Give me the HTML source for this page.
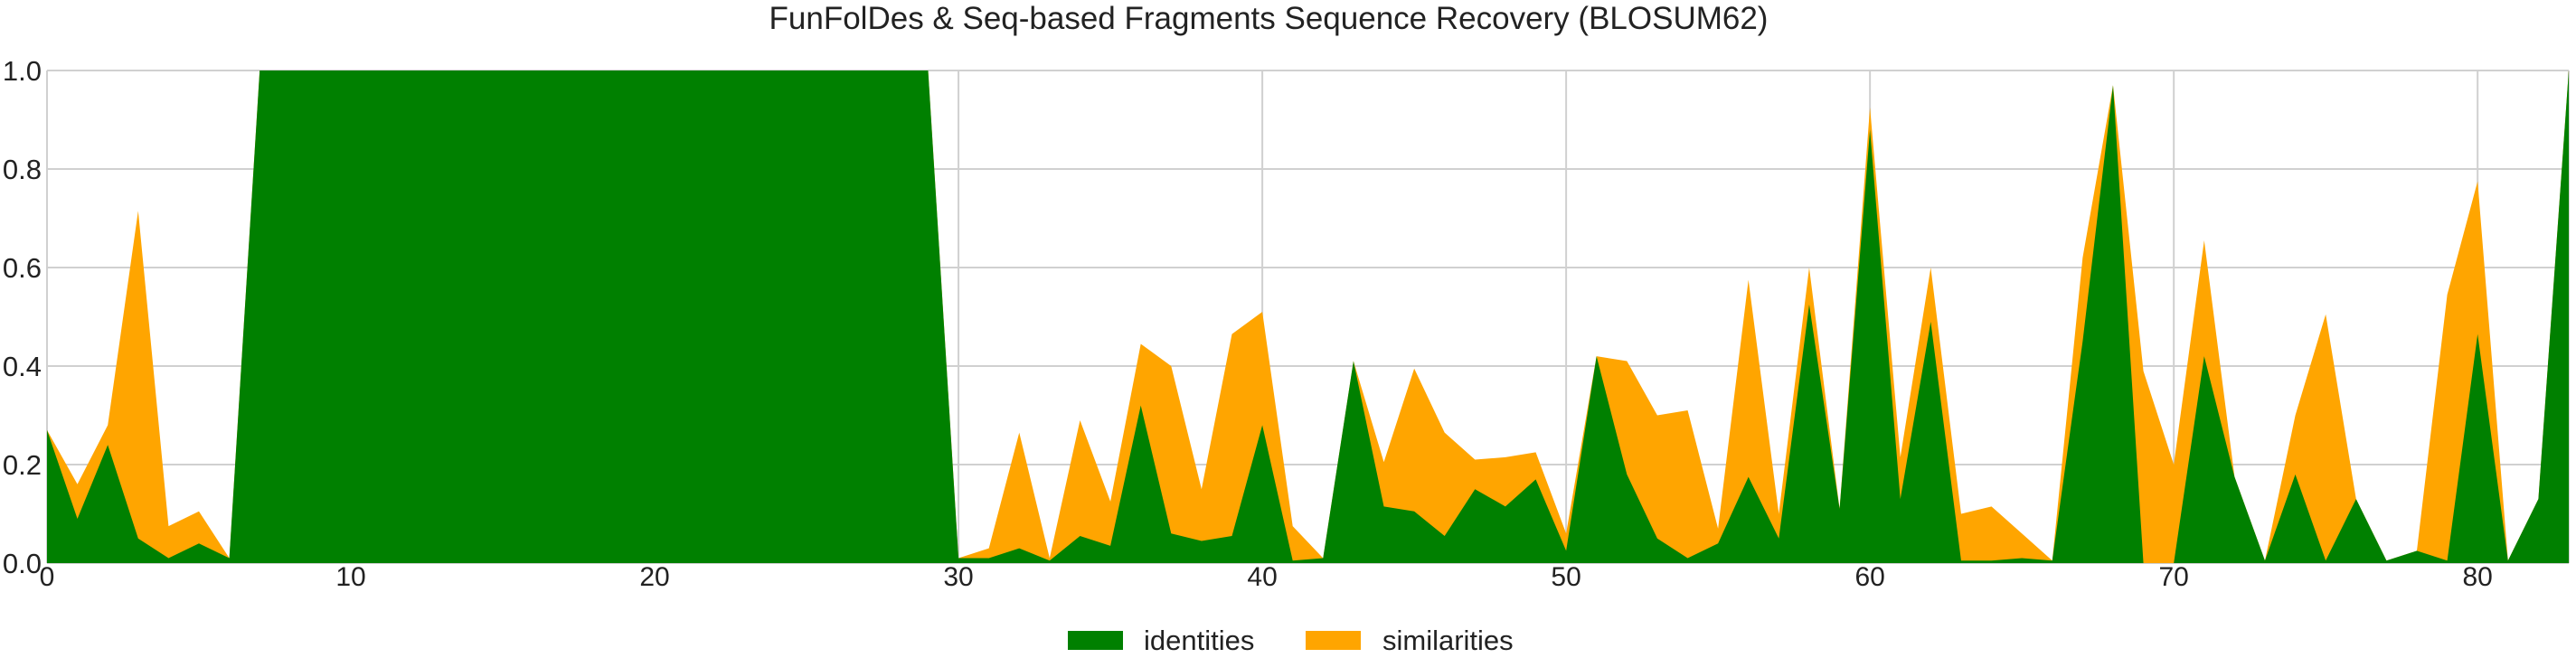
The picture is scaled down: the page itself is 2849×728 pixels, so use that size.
<!DOCTYPE html>
<html><head><meta charset="utf-8"><style>
html,body{margin:0;padding:0;background:#fff;}
svg{display:block;font-family:"Liberation Sans",sans-serif;}
</style></head><body>
<svg id="chart" width="2849" height="728" viewBox="0 0 2849 728">
<text x="1403" y="32" font-size="35" text-anchor="middle" fill="#222">FunFolDes &amp; Seq-based Fragments Sequence Recovery (BLOSUM62)</text>
<g id="grid"></g>
<g id="areas"></g>
<g id="ticks"></g>
<g>
<rect x="1181" y="698" width="61" height="21" fill="#008000"/>
<text x="1265" y="719" font-size="31" fill="#222">identities</text>
<rect x="1444" y="698" width="61" height="21" fill="#FFA500"/>
<text x="1529" y="719" font-size="31" fill="#222">similarities</text>
</g>
</svg>
<script>
const identities=[0.27,0.09,0.24,0.05,0.01,0.04,0.01,1,1,1,1,1,1,1,1,1,1,1,1,1,1,1,1,1,1,1,1,1,1,1,0.01,0.01,0.03,0.005,0.055,0.035,0.32,0.06,0.045,0.055,0.28,0.005,0.01,0.41,0.115,0.105,0.055,0.15,0.115,0.17,0.025,0.42,0.18,0.05,0.01,0.04,0.175,0.05,0.525,0.11,0.88,0.13,0.49,0.005,0.005,0.01,0.005,0.45,0.97,0,0,0.42,0.175,0.005,0.18,0.005,0.13,0.005,0.025,0.005,0.465,0.005,0.13,1.0];
const similarities=[0.27,0.16,0.28,0.715,0.075,0.105,0.01,1,1,1,1,1,1,1,1,1,1,1,1,1,1,1,1,1,1,1,1,1,1,1,0.01,0.03,0.265,0.01,0.29,0.125,0.445,0.4,0.15,0.465,0.51,0.075,0.01,0.41,0.205,0.395,0.265,0.21,0.215,0.225,0.06,0.42,0.41,0.3,0.31,0.07,0.575,0.1,0.6,0.11,0.925,0.215,0.6,0.1,0.115,0.06,0.005,0.62,0.97,0.39,0.2,0.655,0.175,0.005,0.3,0.505,0.13,0.005,0.025,0.545,0.775,0.005,0.13,1.0];
const xTicks=[0,10,20,30,40,50,60,70,80];
const yTicks=[0,0.2,0.4,0.6,0.8,1.0];
const NS="http://www.w3.org/2000/svg";
const L=52,R=2841,T=78,B=623,XMAX=83;
function sx(i){return L+(R-L)*i/XMAX;}
function sy(v){return B-(B-T)*v;}
const grid=document.getElementById('grid'),areas=document.getElementById('areas'),ticks=document.getElementById('ticks');
function mk(tag,attrs,parent){const e=document.createElementNS(NS,tag);for(const k in attrs)e.setAttribute(k,attrs[k]);parent.appendChild(e);return e;}
yTicks.forEach(v=>{
 const l=mk('line',{x1:L,x2:R,y1:sy(v),y2:sy(v),stroke:'#d0d0d0','stroke-width':2},grid);
 
 
 const t=mk('text',{x:L-6,y:sy(v)+11,'font-size':31,'text-anchor':'end',fill:'#222'},ticks);
 t.textContent=v.toFixed(1);
 
 
});
xTicks.forEach(v=>{
 const l=mk('line',{x1:sx(v),x2:sx(v),y1:T,y2:B,stroke:'#d0d0d0','stroke-width':2},grid);
 
 
 const t=mk('text',{x:sx(v),y:B+25,'font-size':30,'text-anchor':'middle',fill:'#222'},ticks);
 t.textContent=v;
 
 
});
const rl=mk('line',{x1:R,x2:R,y1:T,y2:B,stroke:'#d0d0d0','stroke-width':2},grid);


function areaPath(vals){let d='M'+sx(0)+','+sy(0);vals.forEach((v,i)=>{d+=' L'+sx(i)+','+sy(v);});d+=' L'+sx(vals.length-1)+','+sy(0)+' Z';return d;}
const ps=mk('path',{d:areaPath(similarities),fill:'#FFA500'},areas);


const pi=mk('path',{d:areaPath(identities),fill:'#008000'},areas);


</script>
</body></html>
